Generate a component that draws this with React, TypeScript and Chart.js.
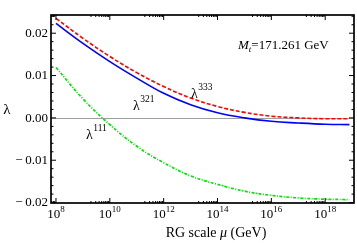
import React, { useEffect, useRef } from "react";
import { Chart, registerables } from "chart.js";

Chart.register(...registerables);

// log10 of RG scale mu (GeV)
const logMu = [8, 9, 10, 11, 12, 13, 14, 15, 16, 17, 18, 18.9];
const lambda321 = [0.0223, 0.0176, 0.0133, 0.0094, 0.0058, 0.0031, 0.0012, 0.0, -0.0008, -0.0012, -0.0015, -0.0016];
const lambda333 = [0.0235, 0.0188, 0.0145, 0.0107, 0.0074, 0.0047, 0.0027, 0.0013, 0.0004, 0.0, -0.0002, -0.0002];
const lambda111 = [0.0119, 0.0045, -0.0016, -0.0067, -0.0106, -0.0137, -0.0157, -0.0173, -0.0183, -0.0189, -0.0192, -0.0193];

const xTickExps = [8, 10, 12, 14, 16, 18];
const yTicks = [-0.02, -0.01, 0, 0.01, 0.02];
const yTickLabels = ["\u2212\u20090.02", "\u2212\u20090.01", "0.00", "0.01", "0.02"];
const mtLabel = "=171.261 GeV";

const SERIF = '"Liberation Serif", "DejaVu Serif", serif';

const decorPlugin = {
  id: "decor",
  beforeDatasetsDraw(chart: any) {
    const { ctx, chartArea } = chart;
    const y = chart.scales.y;
    ctx.save();
    ctx.strokeStyle = "#a0a0a0";
    ctx.lineWidth = 1;
    const py = Math.round(y.getPixelForValue(0)) + 0.5;
    ctx.beginPath();
    ctx.moveTo(chartArea.left, py);
    ctx.lineTo(chartArea.right, py);
    ctx.stroke();
    ctx.restore();
  },
  afterDatasetsDraw(chart: any) {
    const { ctx, chartArea } = chart;
    const { left, right, top, bottom } = chartArea;
    const xs = chart.scales.x;
    const ys = chart.scales.y;
    ctx.save();
    ctx.strokeStyle = "#000";
    ctx.lineWidth = 1.7;
    ctx.strokeRect(left, top, right - left, bottom - top);

    ctx.lineWidth = 1;
    // x ticks
    const drawX = (v: number, len: number) => {
      const px = xs.getPixelForValue(v);
      if (px < left || px > right) return;
      ctx.beginPath();
      ctx.moveTo(px, bottom);
      ctx.lineTo(px, bottom - len);
      ctx.moveTo(px, top);
      ctx.lineTo(px, top + len);
      ctx.stroke();
    };
    xTickExps.forEach((e) => {
      drawX(e, 5);
      for (let k = 2; k <= 9; k++) drawX(e - 1 + Math.log10(k), 2);
    });
    // y ticks
    const drawY = (v: number, len: number) => {
      const py = ys.getPixelForValue(v);
      if (py < top - 0.5 || py > bottom + 0.5) return;
      ctx.beginPath();
      ctx.moveTo(left, py);
      ctx.lineTo(left + len, py);
      ctx.moveTo(right, py);
      ctx.lineTo(right - len, py);
      ctx.stroke();
    };
    for (let i = -10; i <= 12; i++) {
      const v = i * 0.002;
      drawY(v, i % 5 === 0 ? 5 : 2.5);
    }

    ctx.fillStyle = "#000";
    // y tick labels
    ctx.font = `13px ${SERIF}`;
    ctx.textAlign = "right";
    ctx.textBaseline = "middle";
    yTicks.forEach((v, i) => {
      ctx.fillText(yTickLabels[i], left - 3, ys.getPixelForValue(v) + 0.5);
    });
    // x tick labels
    xTickExps.forEach((e) => {
      const px = xs.getPixelForValue(e);
      ctx.font = `13px ${SERIF}`;
      const bw = ctx.measureText("10").width;
      ctx.font = `9px ${SERIF}`;
      const ew = ctx.measureText(String(e)).width;
      const x0 = px - (bw + ew) / 2;
      ctx.textAlign = "left";
      ctx.textBaseline = "alphabetic";
      ctx.font = `13px ${SERIF}`;
      ctx.fillText("10", x0, 218);
      ctx.font = `9px ${SERIF}`;
      ctx.fillText(String(e), x0 + bw, 212);
    });

    // axis titles
    ctx.textBaseline = "alphabetic";
    ctx.textAlign = "left";
    const parts: [string, string][] = [
      ["RG scale ", `14px ${SERIF}`],
      ["\u03bc", `italic 14px ${SERIF}`],
      [" (GeV)", `14px ${SERIF}`],
    ];
    let total = 0;
    parts.forEach(([t, f]) => {
      ctx.font = f;
      total += ctx.measureText(t).width;
    });
    let cx = 216 - total / 2;
    parts.forEach(([t, f]) => {
      ctx.font = f;
      ctx.fillText(t, cx, 237);
      cx += ctx.measureText(t).width;
    });
    ctx.font = `15px ${SERIF}`;
    ctx.textAlign = "center";
    ctx.fillText("\u03bb", 7, 114);

    // curve labels
    const lam = (x: number, y: number, sup: string) => {
      ctx.textAlign = "left";
      ctx.font = `14px ${SERIF}`;
      ctx.fillText("\u03bb", x, y);
      const w = ctx.measureText("\u03bb").width;
      ctx.font = `9.5px ${SERIF}`;
      ctx.fillText(sup, x + w + 0.5, y - 8);
    };
    lam(133, 110, "321");
    lam(191, 98, "333");
    lam(86, 139, "111");

    // M_t label
    ctx.textAlign = "left";
    ctx.font = `italic 13px ${SERIF}`;
    let mx = 238;
    ctx.fillText("M", mx, 49);
    mx += ctx.measureText("M").width;
    ctx.font = `italic 9px ${SERIF}`;
    ctx.fillText("t", mx, 52);
    mx += ctx.measureText("t").width;
    ctx.font = `13px ${SERIF}`;
    ctx.fillText(mtLabel, mx, 49);

    ctx.restore();
  },
};

export default function App() {
  const ref = useRef<HTMLCanvasElement | null>(null);
  useEffect(() => {
    if (!ref.current) return;
    const pts = (arr: number[]) => logMu.map((x, i) => ({ x, y: arr[i] }));
    const chart = new Chart(ref.current, {
      type: "line",
      data: {
        datasets: [
          {
            label: "lambda111",
            data: pts(lambda111),
            borderColor: "#00e600",
            borderWidth: 1.7,
            borderDash: [3, 1.5, 1, 1.5],
            pointRadius: 0,
            tension: 0.4,
            fill: false,
          },
          {
            label: "lambda321",
            data: pts(lambda321),
            borderColor: "#0000ff",
            borderWidth: 1.6,
            pointRadius: 0,
            tension: 0.4,
            fill: false,
          },
          {
            label: "lambda333",
            data: pts(lambda333),
            borderColor: "#ff0000",
            borderWidth: 1.6,
            borderDash: [4, 2],
            pointRadius: 0,
            tension: 0.4,
            fill: false,
          },
        ],
      },
      options: {
        animation: false,
        responsive: false,
        maintainAspectRatio: false,
        devicePixelRatio: 1,
        layout: { padding: { left: 0, right: 3, top: 15, bottom: 0 } },
        plugins: { legend: { display: false }, tooltip: { enabled: false } },
        scales: {
          x: {
            type: "linear",
            min: 7.815,
            max: 19.07,
            grid: { display: false },
            border: { display: false },
            ticks: { display: false },
            afterFit: (s: any) => {
              s.height = 40;
            },
          },
          y: {
            type: "linear",
            min: -0.0201,
            max: 0.0243,
            grid: { display: false },
            border: { display: false },
            ticks: { display: false },
            afterFit: (s: any) => {
              s.width = 51;
            },
          },
        },
      },
      plugins: [decorPlugin],
    });
    return () => chart.destroy();
  }, []);
  return (
    <div style={{ position: "fixed", left: 0, top: 0, width: 357, height: 243, background: "#fff" }}>
      <canvas ref={ref} width={357} height={243} style={{ width: 357, height: 243 }} />
    </div>
  );
}
